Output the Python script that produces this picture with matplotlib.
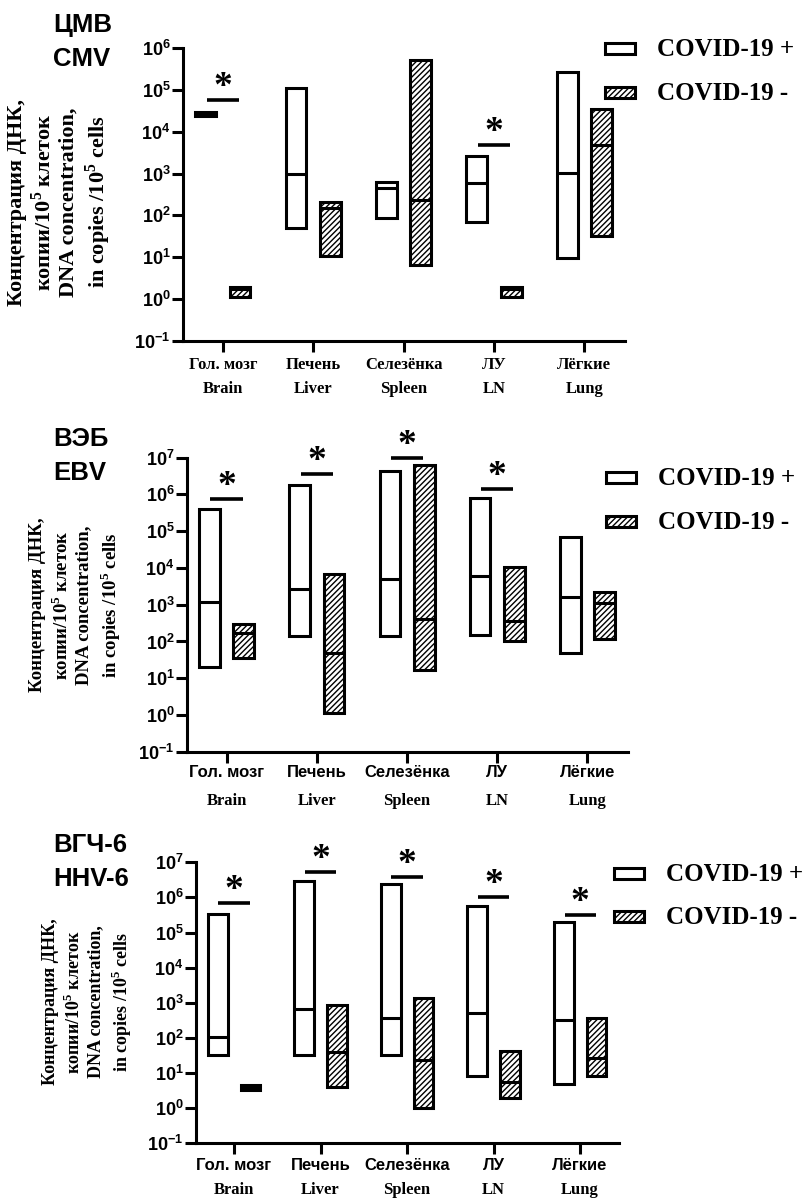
import matplotlib
matplotlib.use('Agg')
import matplotlib.pyplot as plt
from matplotlib.patches import Rectangle
from matplotlib.ticker import NullLocator
import numpy as np

# categories
organs_ru = ['Гол. мозг', 'Печень', 'Селезёнка', 'ЛУ', 'Лёгкие']
organs_en = ['Brain', 'Liver', 'Spleen', 'LN', 'Lung']
groups = ['COVID-19 +', 'COVID-19 -']

# CMV: min / median / max per organ
cmv_pos_min = [2.4e4, 50, 88, 70, 9.5]
cmv_pos_med = [2.6e4, 980, 460, 600, 1050]
cmv_pos_max = [2.9e4, 1.1e5, 620, 2700, 2.7e5]
cmv_neg_min = [1.1, 10.5, 6.5, 1.1, 32]
cmv_neg_med = [1.75, 150, 235, 1.75, 4900]
cmv_neg_max = [2.0, 205, 5.3e5, 2.0, 3.5e4]
cmv_sig = [5.7e4, None, None, 4700, None]

# EBV
ebv_pos_min = [20, 145, 145, 150, 48]
ebv_pos_med = [1200, 2700, 5000, 6200, 1650]
ebv_pos_max = [3.9e5, 1.8e6, 4.4e6, 7.9e5, 7.1e4]
ebv_neg_min = [35, 1.1, 17, 105, 114]
ebv_neg_med = [165, 48, 400, 370, 1100]
ebv_neg_max = [290, 7000, 6.3e6, 1.04e4, 2250]
ebv_sig = [7.4e5, 3.5e6, 1.0e7, 1.4e6, None]

# HHV-6
hhv_pos_min = [32, 32, 32, 8.1, 5.0]
hhv_pos_med = [103, 660, 360, 520, 320]
hhv_pos_max = [3.3e5, 2.9e6, 2.4e6, 5.7e5, 1.95e5]
hhv_neg_min = [3.3, 4.1, 1.0, 2.0, 8.1]
hhv_neg_med = [4.0, 39, 23, 5.4, 26]
hhv_neg_max = [4.7, 860, 1340, 43, 360]
hhv_sig = [6.8e5, 5.2e6, 3.9e6, 1.05e6, 3.2e5]

plt.rcParams['mathtext.fontset'] = 'custom'
plt.rcParams['mathtext.rm'] = 'Liberation Sans:bold'
plt.rcParams['mathtext.bf'] = 'Liberation Serif:bold'
plt.rcParams['hatch.linewidth'] = 1.0
plt.rcParams['axes.linewidth'] = 2.2

W, H = 811, 1199
fig = plt.figure(figsize=(W / 100, H / 100), dpi=100)

LW = 2.2
HATCH = '//////'
SERIF = 'Liberation Serif'
SANS = 'Liberation Sans'


def add_axes_px(l, r, t, b):
    return fig.add_axes([l / W, 1 - b / H, (r - l) / W, (b - t) / H])


def draw_panel(ax, pmin, pmed, pmax, nmin, nmed, nmax, sig, ytop, ru_font, lab_off):
    x = np.arange(len(organs_en))
    w = 0.23
    off = 0.19
    pmin, pmed, pmax = map(np.array, (pmin, pmed, pmax))
    nmin, nmed, nmax = map(np.array, (nmin, nmed, nmax))
    ax.bar(x - off, pmax - pmin, bottom=pmin, width=w, facecolor='white',
           edgecolor='black', linewidth=LW, zorder=3)
    ax.bar(x + off, nmax - nmin, bottom=nmin, width=w, facecolor='white',
           edgecolor='black', linewidth=LW, hatch=HATCH, zorder=3)
    ax.hlines(pmed, x - off - w / 2, x - off + w / 2, color='black', lw=LW, zorder=4)
    ax.hlines(nmed, x + off - w / 2, x + off + w / 2, color='black', lw=LW, zorder=4)

    for xi, s in zip(x, sig):
        if s is None:
            continue
        ax.hlines(s, xi - 0.18, xi + 0.18, color='black', lw=2.6, clip_on=False)
        ax.annotate('*', (xi, s), xytext=(0, 3), textcoords='offset pixels',
                    ha='center', va='baseline', fontsize=27, family=SERIF,
                    fontweight='bold', annotation_clip=False)

    ax.set_yscale('log')
    ax.set_ylim(0.1, ytop)
    ax.set_xlim(-0.44, 4.45)
    exps = range(-1, int(round(np.log10(ytop))) + 1)
    ax.set_yticks([10.0 ** k for k in exps])
    ax.set_yticklabels([r'$\mathrm{10^{%d}}$' % k for k in exps], fontsize=13)
    ax.yaxis.set_minor_locator(NullLocator())
    ax.set_xticks(x)
    ax.set_xticklabels([])
    ax.tick_params(axis='both', width=LW, length=8, direction='out')
    ax.tick_params(axis='y', pad=1)
    for s in ['top', 'right']:
        ax.spines[s].set_visible(False)

    for xi, ru, en in zip(x, organs_ru, organs_en):
        ax.annotate(ru, (xi, 0), xycoords=('data', 'axes fraction'),
                    xytext=(0, -lab_off[0]), textcoords='offset pixels',
                    ha='center', va='center', fontsize=12, family=ru_font,
                    fontweight='bold', annotation_clip=False)
        ax.annotate(en, (xi, 0), xycoords=('data', 'axes fraction'),
                    xytext=(0, -lab_off[1]), textcoords='offset pixels',
                    ha='center', va='center', fontsize=12, family=SERIF,
                    fontweight='bold', annotation_clip=False)


def draw_legend(bx, yc1, yc2, tx):
    for yc, lab, hatch in zip([yc1, yc2], groups, [None, HATCH]):
        fig.add_artist(Rectangle((bx / W, 1 - (yc + 5.5) / H), 30 / W, 11 / H,
                                 transform=fig.transFigure, facecolor='white',
                                 edgecolor='black', linewidth=LW, hatch=hatch))
        fig.text(tx / W, 1 - (yc + 8) / H, lab, ha='left', va='baseline',
                 fontsize=18, family=SERIF, fontweight='bold')


ylab = ('Концентрация ДНК,\nкопии/10$^{\\mathbf{5}}$ клеток\n'
        'DNA concentration,\nin copies /10$^{\\mathbf{5}}$ cells')

# CMV panel
ax1 = add_axes_px(183, 625, 48, 341)
draw_panel(ax1, cmv_pos_min, cmv_pos_med, cmv_pos_max, cmv_neg_min, cmv_neg_med,
           cmv_neg_max, cmv_sig, 1e6, SERIF, (24, 48))
draw_legend(604.5, 48.5, 92.5, 657)
fig.text(53 / W, 1 - 13 / H, 'ЦМВ\nCMV', ha='left', va='top', fontsize=18.5,
         family=SANS, fontweight='bold', linespacing=1.5)
fig.text(60 / W, 1 - 202 / H, ylab, rotation=90, ha='center', va='center',
         multialignment='center', fontsize=16, family=SERIF, fontweight='bold',
         linespacing=1.2)

# EBV panel
ax2 = add_axes_px(187, 628, 457.7, 751.7)
draw_panel(ax2, ebv_pos_min, ebv_pos_med, ebv_pos_max, ebv_neg_min, ebv_neg_med,
           ebv_neg_max, ebv_sig, 1e7, SANS, (21, 49))
draw_legend(605.5, 477, 521, 658)
fig.text(53 / W, 1 - 427 / H, 'ВЭБ\nEBV', ha='left', va='top', fontsize=18.5,
         family=SANS, fontweight='bold', linespacing=1.5)
fig.text(76 / W, 1 - 605 / H, ylab, rotation=90, ha='center', va='center',
         multialignment='center', fontsize=13.5, family=SERIF, fontweight='bold',
         linespacing=1.3)

# HHV-6 panel
ax3 = add_axes_px(196, 619, 862.3, 1143.3)
draw_panel(ax3, hhv_pos_min, hhv_pos_med, hhv_pos_max, hhv_neg_min, hhv_neg_med,
           hhv_neg_max, hhv_sig, 1e7, SANS, (22, 47))
draw_legend(613.5, 873, 916.5, 666)
fig.text(53 / W, 1 - 833 / H, 'ВГЧ-6\nHHV-6', ha='left', va='top', fontsize=18.5,
         family=SANS, fontweight='bold', linespacing=1.5)
fig.text(88 / W, 1 - 1002 / H, ylab, rotation=90, ha='center', va='center',
         multialignment='center', fontsize=13, family=SERIF, fontweight='bold',
         linespacing=1.3)

fig.savefig('out.png', dpi=100)
